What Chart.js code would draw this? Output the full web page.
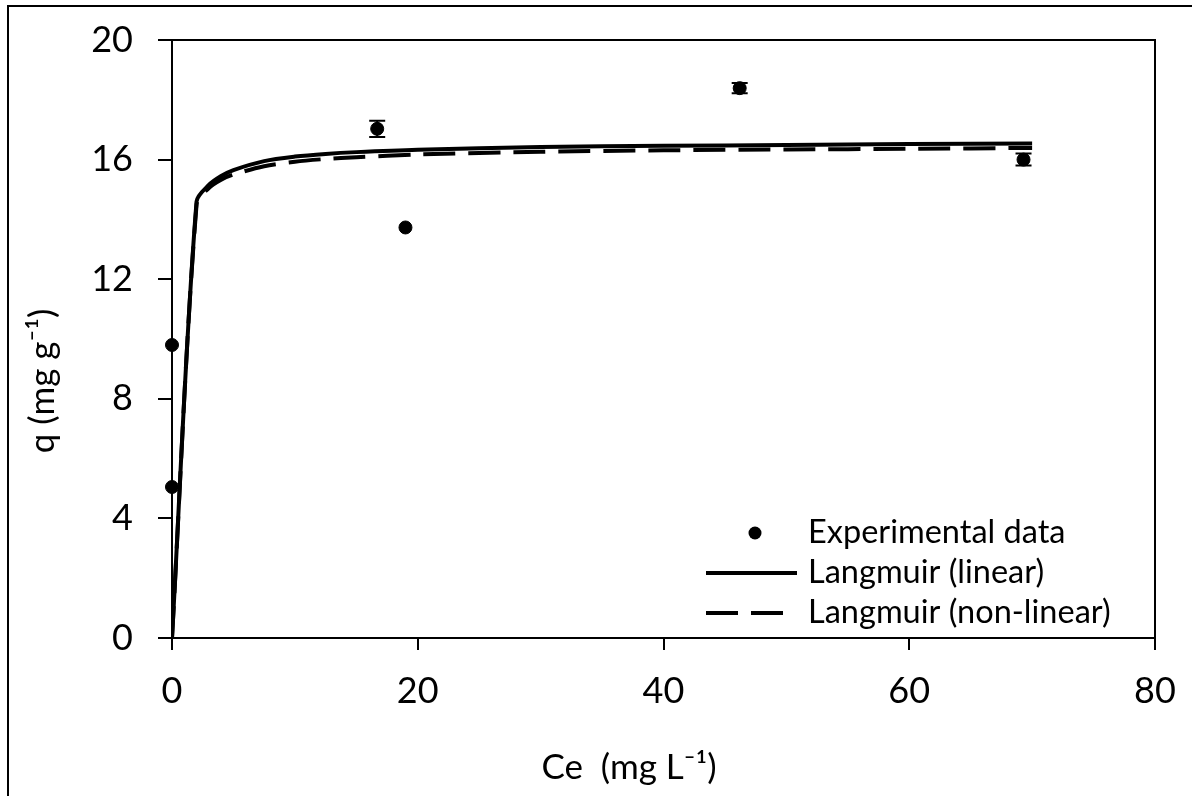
<!DOCTYPE html>
<html>
<head>
<meta charset="utf-8">
<script src="https://cdn.jsdelivr.net/npm/chart.js@4"></script>
<style>
  html, body { margin: 0; padding: 0; background: #fff; }
  #wrap { width: 1192px; height: 796px; }
</style>
</head>
<body>
<div id="wrap"><canvas id="myChart" width="1192" height="796"></canvas></div>
<script>
// data block
const expCe = [0, 0, 16.7, 19.0, 46.2, 69.3];
const expQ = [9.8, 5.05, 17.03, 13.73, 18.39, 16.0];
const expErr = [0, 0, 0.27, 0, 0.17, 0.2];

const fitCe = [0, 2, 3, 4, 5, 7.5, 10, 12.5, 15, 20, 30, 40, 50, 60, 70];
const linearQ = [0, 14.6, 15.15, 15.45, 15.65, 15.95, 16.1, 16.19, 16.25, 16.33, 16.42, 16.46, 16.49, 16.52, 16.54];
const nonLinearQ = [0, 14.5, 15.05, 15.33, 15.5, 15.78, 15.93, 16.02, 16.08, 16.17, 16.26, 16.31, 16.34, 16.36, 16.39];

const xTicks = [0, 20, 40, 60, 80];
const yTicks = [0, 4, 8, 12, 16, 20];
const xTitle = "Ce  (mg L\u207B\u00B9)";
const yTitle = "q (mg g\u207B\u00B9)";

const FONT = "Lato";

const toPts = (xs, ys) => xs.map((x, i) => ({ x: x, y: ys[i] }));

const data = {
  datasets: [
    {
      label: "Experimental data",
      data: toPts(expCe, expQ),
      showLine: false,
      pointRadius: 6.5,
      pointBackgroundColor: "#000",
      pointBorderColor: "#000",
      clip: false,
    },
    {
      label: "Langmuir (linear)",
      data: toPts(fitCe, linearQ),
      showLine: true,
      borderColor: "#000",
      borderWidth: 4,
      pointRadius: 0,
      tension: 0.3,
    },
    {
      label: "Langmuir (non-linear)",
      data: toPts(fitCe, nonLinearQ),
      showLine: true,
      borderColor: "#000",
      borderWidth: 4,
      borderDash: [32, 13],
      pointRadius: 0,
      tension: 0.3,
    },
  ],
};

// scale padding off, layout.padding decides the plot box
function noPad(s) {
  s.paddingTop = 0; s.paddingBottom = 0;
  s.paddingLeft = 0; s.paddingRight = 0;
}

// frame, plot box, error bars, axis titles, legend
const extras = {
  id: "extras",
  beforeDraw(chart) {
    const ctx = chart.ctx;
    ctx.save();
    ctx.strokeStyle = "#000";
    ctx.lineWidth = 2;
    ctx.beginPath();
    ctx.moveTo(8, 796);
    ctx.lineTo(8, 6);
    ctx.lineTo(1192, 6);
    ctx.stroke();
    ctx.restore();
  },
  afterDatasetsDraw(chart) {
    const ctx = chart.ctx;
    const xs = chart.scales.x, ys = chart.scales.y;
    const a = chart.chartArea;
    ctx.save();
    ctx.strokeStyle = "#000";
    ctx.lineWidth = 2;
    ctx.beginPath();
    ctx.moveTo(a.left, a.top);
    ctx.lineTo(a.right, a.top);
    ctx.lineTo(a.right, a.bottom);
    ctx.stroke();
    expCe.forEach((c, i) => {
      if (!expErr[i]) return;
      const px = xs.getPixelForValue(c);
      const y1 = ys.getPixelForValue(expQ[i] + expErr[i]);
      const y2 = ys.getPixelForValue(expQ[i] - expErr[i]);
      ctx.beginPath();
      ctx.moveTo(px, y1); ctx.lineTo(px, y2);
      ctx.moveTo(px - 8, y1); ctx.lineTo(px + 8, y1);
      ctx.moveTo(px - 8, y2); ctx.lineTo(px + 8, y2);
      ctx.stroke();
    });

    // axis titles (sit off-centre in the original)
    ctx.fillStyle = "#000";
    ctx.font = "35px " + FONT;
    ctx.textAlign = "center";
    ctx.textBaseline = "middle";
    ctx.fillText(xTitle, 629, 768);
    ctx.save();
    ctx.translate(43, 381);
    ctx.rotate(-Math.PI / 2);
    ctx.fillText(yTitle, 0, 0);
    ctx.restore();

    // legend
    const ds = chart.data.datasets;
    const rows = [533, 573, 613];
    ctx.font = "32.5px " + FONT;
    ctx.textAlign = "left";
    ds.forEach((d, i) => {
      const y = rows[i];
      if (i === 0) {
        ctx.beginPath();
        ctx.arc(755, y, 6.5, 0, Math.PI * 2);
        ctx.fill();
      } else {
        ctx.lineWidth = 4;
        ctx.setLineDash(d.borderDash || []);
        ctx.beginPath();
        ctx.moveTo(706, y);
        ctx.lineTo(i === 1 ? 797 : 785, y);
        ctx.stroke();
        ctx.setLineDash([]);
      }
      ctx.fillText(d.label, 808, y);
    });
    ctx.restore();
  },
};

const config = {
  type: "scatter",
  data: data,
  options: {
    responsive: false,
    animation: false,
    layout: { padding: { left: 10, top: 40, right: 37, bottom: 0 } },
    plugins: {
      legend: { display: false },
      tooltip: { enabled: false },
    },
    scales: {
      x: {
        type: "linear",
        min: 0,
        max: 80,
        afterBuildTicks: (s) => { s.ticks = xTicks.map((v) => ({ value: v })); },
        afterFit: (s) => { s.height = 158; noPad(s); },
        ticks: { color: "#000", font: { family: FONT, size: 36 }, padding: 20 },
        grid: { drawOnChartArea: false, drawTicks: true, tickLength: 12, color: "#000", lineWidth: 2 },
        border: { display: true, color: "#000", width: 2 },
      },
      y: {
        min: 0,
        max: 20,
        afterBuildTicks: (s) => { s.ticks = yTicks.map((v) => ({ value: v })); },
        afterFit: (s) => { s.width = 162; noPad(s); },
        ticks: { color: "#000", font: { family: FONT, size: 36 }, padding: 25 },
        grid: { drawOnChartArea: false, drawTicks: true, tickLength: 14, color: "#000", lineWidth: 2 },
        border: { display: true, color: "#000", width: 2 },
      },
    },
  },
  plugins: [extras],
};

const myChart = new Chart(document.getElementById("myChart"), config);
</script>
</body>
</html>
